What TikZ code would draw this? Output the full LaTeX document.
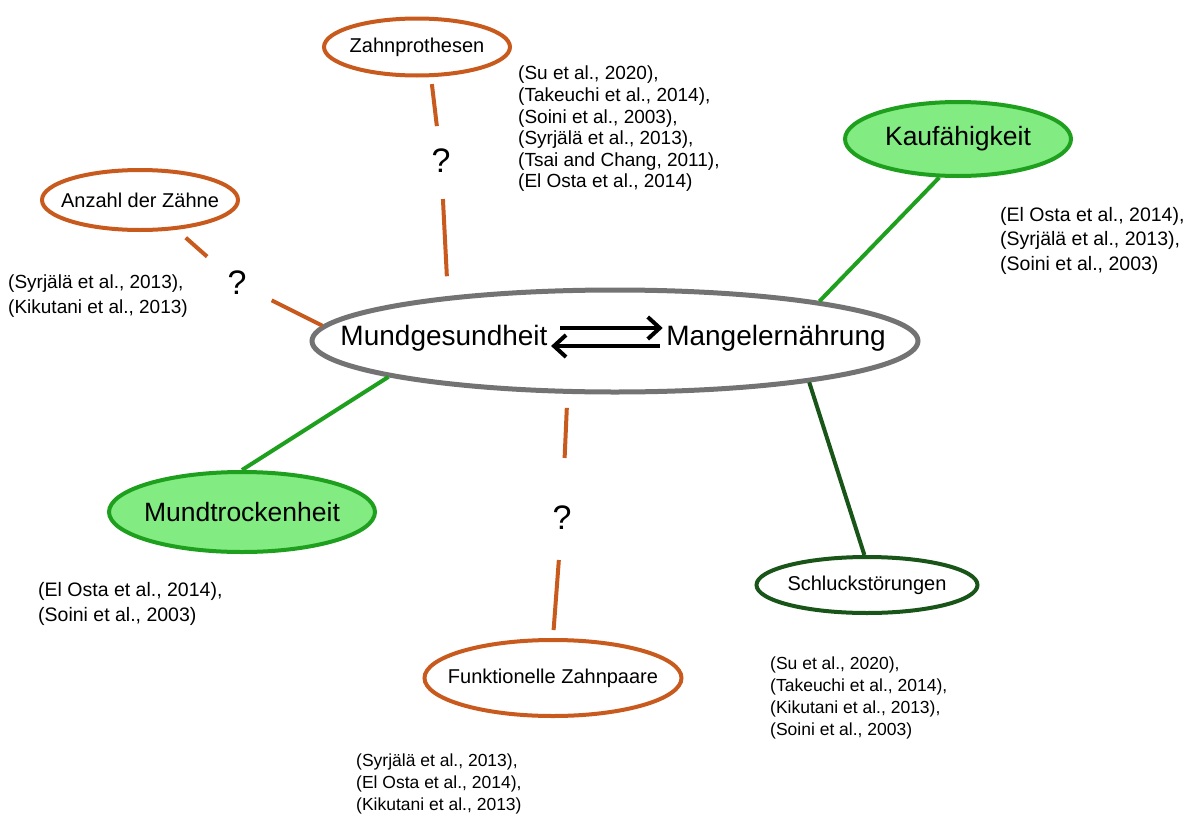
\documentclass[tikz,border=0pt]{standalone}
\usepackage{fontspec}
\setmainfont{Liberation Sans}
\usetikzlibrary{shapes.geometric,arrows.meta}
\definecolor{rostbraun}{RGB}{200,90,30}
\definecolor{gruen}{RGB}{30,160,30}
\definecolor{hellgruen}{RGB}{130,235,130}
\definecolor{dunkelgruen}{RGB}{25,85,25}
\definecolor{grau}{RGB}{115,115,115}
\begin{document}
\begin{tikzpicture}[x=1pt,y=-1pt,
	bubble/.style={ellipse,draw,line width=4pt,inner ysep=0pt,inner xsep=-20pt,fill=white,font=\fontsize{20}{24}\selectfont},
	orangebubble/.style={bubble,draw=rostbraun},
	greenbubble/.style={bubble,draw=gruen,fill=hellgruen,font=\fontsize{26.5}{30}\selectfont},
	cite/.style 2 args={anchor=north west,inner sep=0pt,align=left,font=\fontsize{#1}{#2}\selectfont},
	frage/.style={inner sep=0pt,font=\fontsize{34}{38}\selectfont},
	link/.style={line width=4pt}]
	\useasboundingbox (0,0) rectangle (1195,814);
	\node[ellipse,draw=grau,line width=5pt,minimum width=606pt,minimum height=102pt] (main) at (615,341) {};
	\node[font=\fontsize{28}{32}\selectfont] (mg) at (444,338) {Mundgesundheit};
	\node[font=\fontsize{28}{32}\selectfont] (mn) at (776,338) {Mangelernährung};
	\draw[-{Straight Barb[length=12pt,width=22pt]},line width=4pt,shorten <=9pt] ([yshift=10pt]mg.east) -- ([yshift=10pt]mn.west);
	\draw[-{Straight Barb[length=12pt,width=22pt]},line width=4pt,shorten <=3pt] ([yshift=-8pt]mn.west) -- ([yshift=-8pt]mg.east);

	\node[orangebubble,minimum width=186pt,minimum height=57pt] (zahn) at (417,47) {Zahnprothesen};
	\node[orangebubble,minimum width=196pt,minimum height=60pt] (anz) at (140,200) {Anzahl der Zähne};
	\node[orangebubble,minimum width=257pt,minimum height=76pt] (funk) at (553,678) {Funktionelle Zahnpaare};
	\node[greenbubble,minimum width=226pt,minimum height=74pt] (kauf) at (958,139) {Kaufähigkeit};
	\node[greenbubble,minimum width=266pt,minimum height=80pt] (mtr) at (242,512) {Mundtrockenheit};
	\node[bubble,draw=dunkelgruen,minimum width=221pt,minimum height=56pt] (schl) at (867,585) {Schluckstörungen};

	\node[frage] (qz) at (441,161) {?};
	\node[frage] (qa) at (237,283) {?};
	\node[frage] (qf) at (562,518) {?};

	\draw[link,rostbraun,shorten <=7pt,shorten >=23pt] (zahn.-65) -- (qz);
	\draw[link,rostbraun,shorten <=26pt,shorten >=20pt] (qz) -- (main.165);
	\draw[link,rostbraun,shorten <=12pt,shorten >=27pt] (anz.-39) -- (qa);
	\draw[link,rostbraun,shorten <=28pt] (qa) -- (main.177);
	\draw[link,rostbraun,shorten <=14pt,shorten >=48pt] (main.-132) -- (qf);
	\draw[link,rostbraun,shorten <=30pt,shorten >=8pt] (qf) -- (funk.north);
	\draw[link,gruen] (kauf.-116) -- (main.11);
	\draw[link,gruen] (mtr.north) -- (main.189);
	\draw[link,dunkelgruen] (main.-12) -- (schl.95);

	\node[cite={19}{21.6}] (zahncite) at (518,66) {(Su et al., 2020),\\(Takeuchi et al., 2014),\\(Soini et al., 2003),\\(Syrjälä et al., 2013),\\(Tsai and Chang, 2011),\\(El Osta et al., 2014)};
	\node[cite={19}{25}] (anzcite) at (8,275) {(Syrjälä et al., 2013),\\(Kikutani et al., 2013)};
	\node[cite={19.5}{24.5}] (kaufcite) at (1000,207) {(El Osta et al., 2014),\\(Syrjälä et al., 2013),\\(Soini et al., 2003)};
	\node[cite={19.5}{25}] (mtrcite) at (38,582) {(El Osta et al., 2014),\\(Soini et al., 2003)};
	\node[cite={17.5}{22}] (schlcite) at (770,657) {(Su et al., 2020),\\(Takeuchi et al., 2014),\\(Kikutani et al., 2013),\\(Soini et al., 2003)};
	\node[cite={17.5}{22}] (funkcite) at (356,754) {(Syrjälä et al., 2013),\\(El Osta et al., 2014),\\(Kikutani et al., 2013)};
\end{tikzpicture}
\end{document}
